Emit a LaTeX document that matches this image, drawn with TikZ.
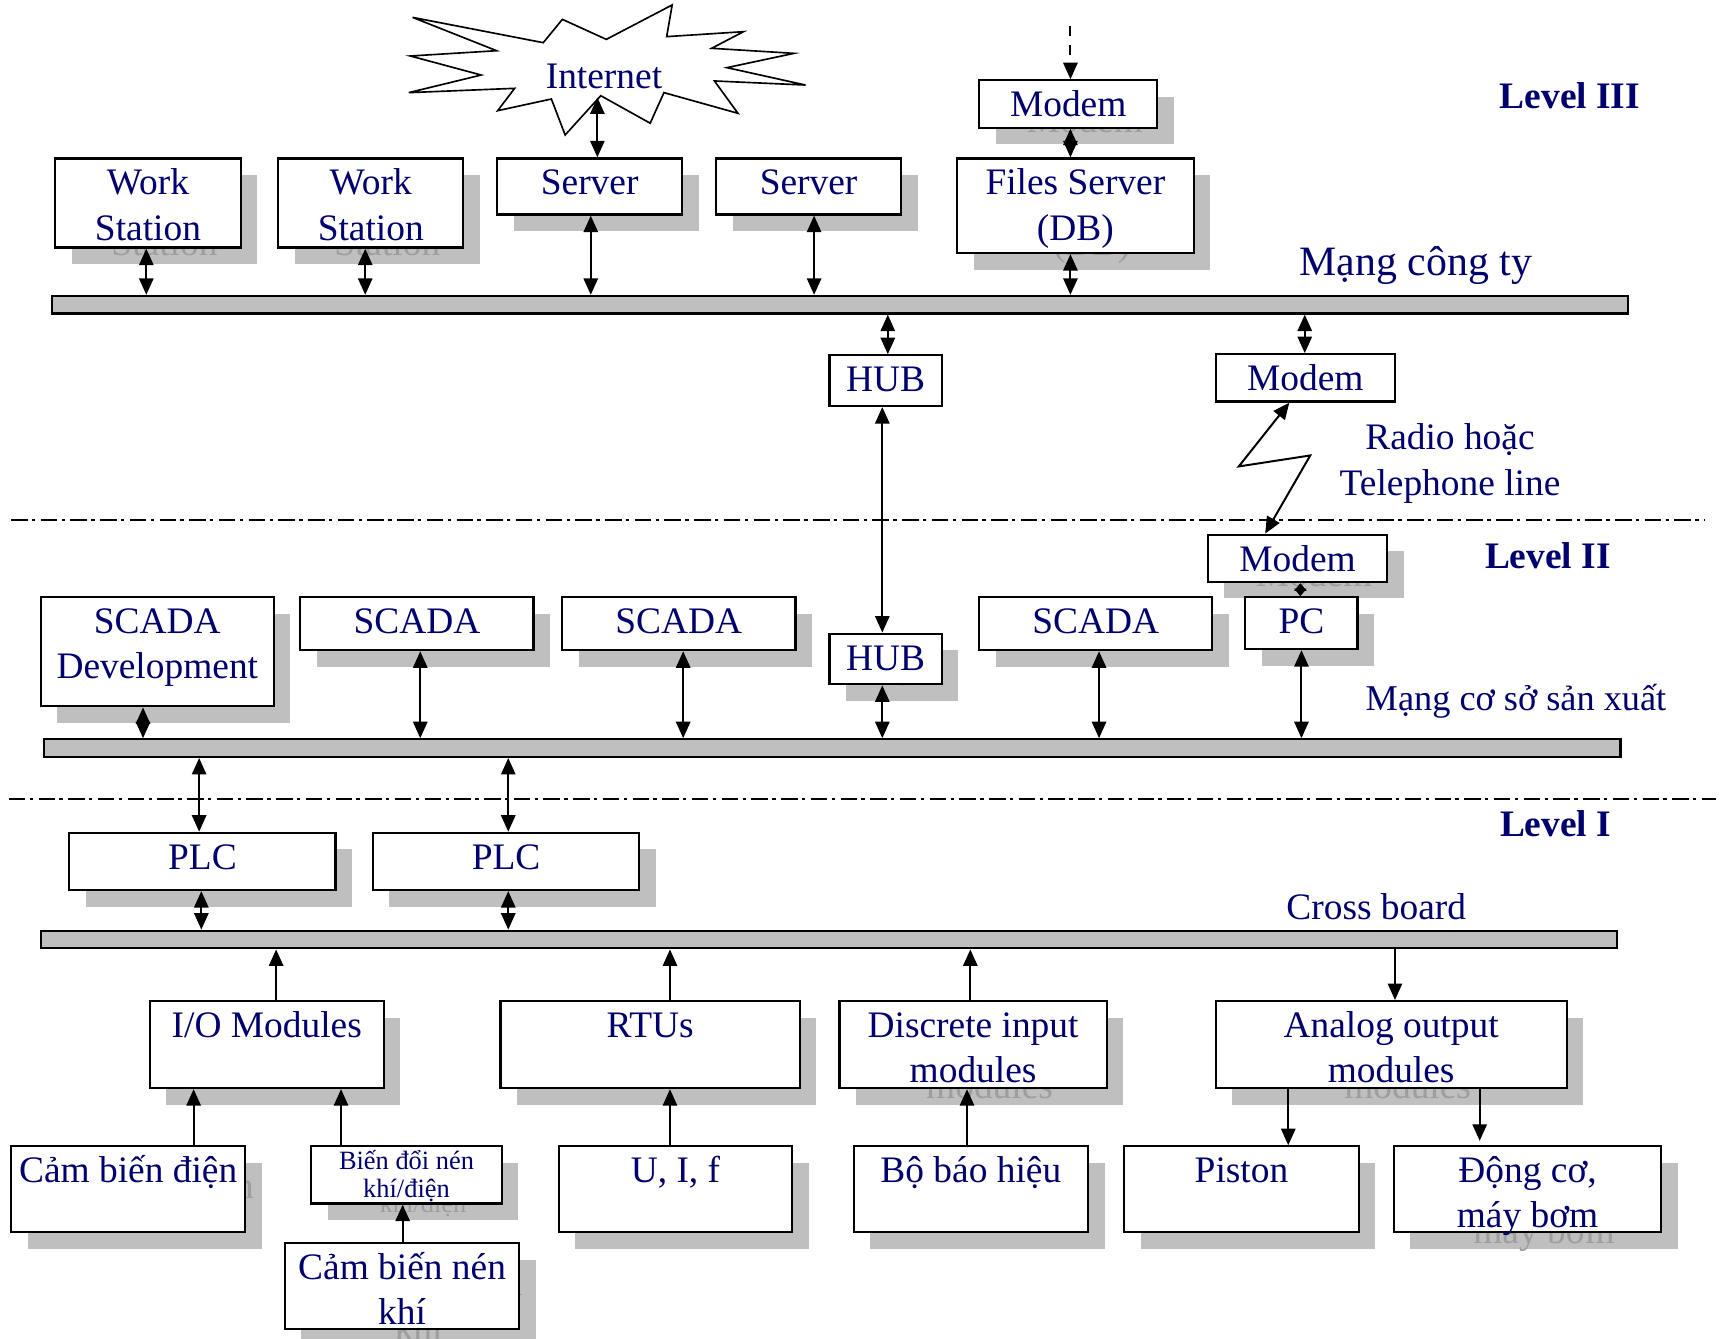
\documentclass[tikz,border=0pt]{standalone}
\usepackage{fontspec}
\setmainfont{Liberation Serif}
\usetikzlibrary{arrows.meta}

\definecolor{ink}{RGB}{0,0,110}
\definecolor{shadowgray}{RGB}{191,191,191}
\definecolor{ghost}{RGB}{158,158,158}

\pgfdeclarelayer{shadows}
\pgfsetlayers{shadows,main}

% lines in boxes always sit one \baselineskip apart
\newcommand\bigfont{\fontsize{34}{41}\selectfont\lineskiplimit=-60pt\relax}
\newcommand\smallfont{\fontsize{24}{25}\selectfont\lineskiplimit=-60pt\relax}

\tikzset{
  unitbox/.style={draw, line width=2pt, fill=white, inner sep=0pt},
  boxtext/.style={text=ink, align=center, inner sep=0pt, anchor=north,
    font=\bigfont},
  busbar/.style={draw, line width=2pt, fill=shadowgray, inner sep=0pt},
  link/.style={line width=1.8pt, -{Triangle[length=15pt,width=13pt]}},
  duplex/.style={line width=1.8pt,
    {Triangle[length=15pt,width=13pt]}-{Triangle[length=15pt,width=13pt]}},
  levelsep/.style={line width=2pt, dash pattern=on 15pt off 4pt on 3pt off 5pt},
  caption/.style={text=ink, inner sep=0pt, anchor=base},
  levelmark/.style={text=ink, inner sep=0pt, anchor=base, font=\bigfont\bfseries},
}

% box with a drop shadow: [text options]{name}{x1}{y1}{x2}{y2}{text}
\newcommand\shadedunit[7][]{%
  \begin{pgfonlayer}{shadows}
    \fill[fill=shadowgray] ({#3+15},{#4+15}) rectangle ({#5+15},{#6+15});
    \node[boxtext, text=ghost, #1] at ({(#3+#5)/2+15},{#4+15})
      {\rule{0pt}{.94em}#7};
  \end{pgfonlayer}
  \node[unitbox, minimum width={(#5-#3)*1pt}, minimum height={(#6-#4)*1pt}]
    (#2) at ({(#3+#5)/2},{(#4+#6)/2}) {};
  \node[boxtext, #1] (#2-text) at ({(#3+#5)/2},{#4+1}) {\rule{0pt}{.94em}#7};
}
% box without shadow
\newcommand\flatunit[7][]{%
  \node[unitbox, minimum width={(#5-#3)*1pt}, minimum height={(#6-#4)*1pt}]
    (#2) at ({(#3+#5)/2},{(#4+#6)/2}) {};
  \node[boxtext, #1] (#2-text) at ({(#3+#5)/2},{#4+1}) {\rule{0pt}{.94em}#7};
}
% network bus bar: {name}{x1}{y1}{x2}{y2}
\newcommand\busline[5]{%
  \node[busbar, minimum width={(#4-#2)*1pt}, minimum height={(#5-#3)*1pt}]
    (#1) at ({(#2+#4)/2},{(#3+#5)/2}) {};
}

\begin{document}
\begin{tikzpicture}[x=1pt,y=-1pt]
\useasboundingbox (0,0) rectangle (1568,1217);

% ---------------- Level III ----------------
\draw[line width=1.5pt, fill=white]
  (375,15.8) -- (493.8,38.8) -- (511.2,17.6) -- (551.1,35.8) -- (611,4.5)
  -- (606,33.3) -- (675.8,28.8) -- (646.9,43.9) -- (721.7,48.5) -- (660.8,61.5)
  -- (732.2,77.3) -- (649.4,73.6) -- (670.8,103) -- (603.5,84.2) -- (591,112)
  -- (546.1,87) -- (513.7,122.7) -- (501.2,90) -- (452.4,100.6) -- (467.8,80.3)
  -- (371.6,84.2) -- (437.4,68.2) -- (373,50.9) -- (451.4,46.1) -- cycle;
\node[caption, font=\bigfont, inner sep=8pt] (inet) at (549,80) {Internet};

\shadedunit{modemA}{890}{73}{1052}{116}{Modem}
\shadedunit{ws1}{50}{144}{219}{225}{Work\\Station}
\shadedunit{ws2}{253}{144}{421}{225}{Work\\Station}
\shadedunit{srv1}{452}{144}{620}{195}{Server}
\shadedunit{srv2}{651}{144}{819}{195}{Server}
\shadedunit{files}{870}{144}{1085}{230}{Files Server\\(DB)}

\busline{bus1}{47}{269}{1480}{285}
\node[caption, font=\fontsize{38}{44}\selectfont] (net1) at (1287,250) {Mạng công ty};
\node[levelmark] (lvl3) at (1427,98.5) {Level III};

\flatunit{hubA}{754}{323}{856}{369}{HUB}
\flatunit{modemB}{1105}{322}{1268}{365}{Modem}
\node[caption, font=\bigfont] (radio1) at (1318,409) {Radio hoặc};
\node[caption, font=\bigfont] (radio2) at (1318,450) {Telephone line};

% ---------------- level separators ----------------
\coordinate (sepIIa) at (10,473);
\coordinate (sepIIb) at (1550,473);
\draw[levelsep] (sepIIa) -- (sepIIb);
\coordinate (sepIa) at (8,726);
\coordinate (sepIb) at (1560,726);
\draw[levelsep] (sepIa) -- (sepIb);

% ---------------- Level II ----------------
\node[levelmark] (lvl2) at (1407,516.5) {Level II};
\shadedunit{modemC}{1098}{486}{1261}{529}{Modem}
\shadedunit{pc}{1132}{543}{1234}{590}{PC}
\shadedunit{scadaD}{37}{543}{249}{642}{SCADA\\Development}
\shadedunit{scada2}{273}{543}{485}{591}{SCADA}
\shadedunit{scada3}{511}{543}{723}{591}{SCADA}
\shadedunit{hubB}{754}{576}{856}{622}{HUB}
\shadedunit{scada4}{890}{543}{1102}{591}{SCADA}

\busline{bus2}{40}{672}{1473}{688}
\node[caption, font=\fontsize{33}{38}\selectfont] (net2) at (1378,645.5) {Mạng cơ sở sản xuất};

% ---------------- Level I ----------------
\node[levelmark] (lvl1) at (1414,760.6) {Level I};
\shadedunit{plc1}{63}{757}{305}{809}{PLC}
\shadedunit{plc2}{339}{757}{581}{809}{PLC}

\busline{bus3}{37}{846}{1470}{862}
\node[caption, font=\bigfont] (net3) at (1251,836) {Cross board};

\shadedunit{io}{136}{910}{349}{989}{I/O Modules}
\shadedunit{rtu}{455}{910}{727}{989}{RTUs}
\shadedunit{din}{763}{910}{1006}{989}{Discrete input\\modules}
\shadedunit{aout}{1105}{910}{1424}{989}{Analog output\\modules}

\shadedunit{sensE}{10}{1042}{223}{1120}{Cảm biến điện}
\shadedunit[font=\smallfont, yshift=2.5pt]{conv}{283}{1042}{456}{1094}{Biến đổi nén\\khí/điện}
\shadedunit{sensP}{259}{1130}{472}{1208}{Cảm biến nén\\khí}
\shadedunit{uif}{508}{1042}{720}{1120}{U, I, f}
\shadedunit{alarm}{776}{1042}{989}{1120}{Bộ báo hiệu}
\shadedunit{piston}{1022}{1042}{1235}{1120}{Piston}
\shadedunit{motor}{1267}{1042}{1510}{1120}{Động cơ,\\máy bơm}

% ---------------- connectors ----------------
\coordinate (wan) at (973,24);
\draw[link, dash pattern=on 9pt off 8pt] (wan) -- (modemA.north -| 973,0);
\draw[duplex] (modemA.south -| 973,0) -- (files.north -| 973,0);
\draw[duplex] (inet.south -| 543,0) -- (srv1.north -| 543,0);

\draw[duplex] (ws1.south -| 133,0) -- (bus1.north -| 133,0);
\draw[duplex] (ws2.south -| 332,0) -- (bus1.north -| 332,0);
\draw[duplex] (srv1.south -| 537,0) -- (bus1.north -| 537,0);
\draw[duplex] (srv2.south -| 740,0) -- (bus1.north -| 740,0);
\draw[duplex] (files.south -| 973,0) -- (bus1.north -| 973,0);

\draw[duplex] (bus1.south -| 807,0) -- (hubA.north -| 807,0);
\draw[duplex] (bus1.south -| 1186,0) -- (modemB.north -| 1186,0);
\draw[duplex] (hubA.south -| 802,0) -- (hubB.north -| 802,0);
\draw[duplex] (modemB.south -| 1172,0) -- (1126,424) -- (1191,414)
  -- (modemC.north -| 1150,0);
\draw[line width=1.8pt, {Triangle[length=7pt,width=11pt]}-{Triangle[length=7pt,width=11pt]}]
  (modemC.south -| 1182,0) -- (pc.north -| 1182,0);

\draw[duplex] (scadaD.south -| 130,0) -- (bus2.north -| 130,0);
\draw[duplex] (scada2.south -| 382,0) -- (bus2.north -| 382,0);
\draw[duplex] (scada3.south -| 621,0) -- (bus2.north -| 621,0);
\draw[duplex] (hubB.south -| 802,0) -- (bus2.north -| 802,0);
\draw[duplex] (scada4.south -| 999,0) -- (bus2.north -| 999,0);
\draw[duplex] (pc.south -| 1183,0) -- (bus2.north -| 1183,0);

\draw[duplex] (bus2.south -| 181,0) -- (plc1.north -| 181,0);
\draw[duplex] (bus2.south -| 462,0) -- (plc2.north -| 462,0);
\draw[duplex] (plc1.south -| 183,0) -- (bus3.north -| 183,0);
\draw[duplex] (plc2.south -| 462,0) -- (bus3.north -| 462,0);

\draw[link] (io.north -| 251,0) -- (bus3.south -| 251,0);
\draw[link] (rtu.north -| 609,0) -- (bus3.south -| 609,0);
\draw[link] (din.north -| 882,0) -- (bus3.south -| 882,0);
\draw[link] (bus3.south -| 1268,0) -- (aout.north -| 1268,0);

\draw[link] (sensE.north -| 176,0) -- (io.south -| 176,0);
\draw[link] (conv.north -| 310,0) -- (io.south -| 310,0);
\draw[link] (sensP.north -| 366,0) -- (conv.south -| 366,0);
\draw[link] (uif.north -| 609,0) -- (rtu.south -| 609,0);
\draw[link] (alarm.north -| 879,0) -- (din.south -| 879,0);
\draw[link] (aout.south -| 1171,0) -- (piston.north -| 1171,0);
\draw[link, shorten >=4pt] (aout.south -| 1345,0) -- (motor.north -| 1345,0);
\end{tikzpicture}
\end{document}
